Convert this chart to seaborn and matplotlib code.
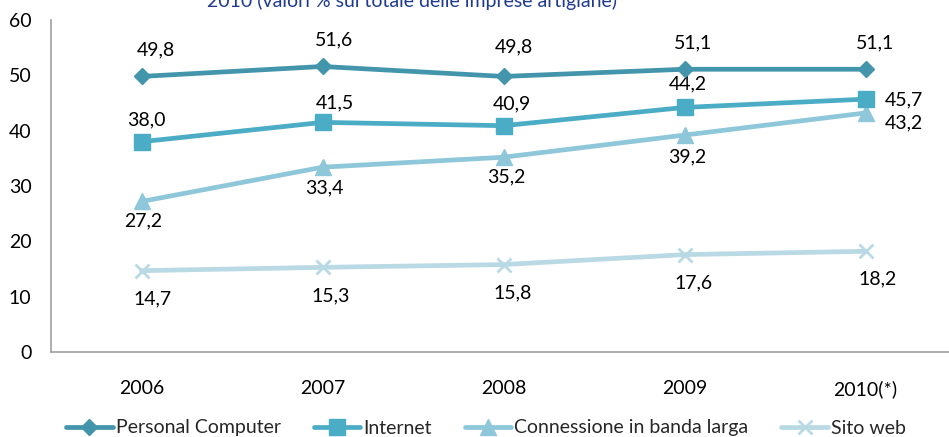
import matplotlib
matplotlib.use("Agg")
import matplotlib.pyplot as plt
import seaborn as sns
import pandas as pd
import numpy as np

# ---- data ----
years = ["2006", "2007", "2008", "2009", "2010(*)"]
series_names = ["Personal Computer", "Internet", "Connessione in banda larga", "Sito web"]
pc = [49.8, 51.6, 49.8, 51.1, 51.1]
internet = [38.0, 41.5, 40.9, 44.2, 45.7]
banda_larga = [27.2, 33.4, 35.2, 39.2, 43.2]
sito_web = [14.7, 15.3, 15.8, 17.6, 18.2]
title_text = "2010 (valori % sul totale delle imprese artigiane)"

values = [pc, internet, banda_larga, sito_web]

df = pd.DataFrame({
    "anno": np.tile(np.arange(len(years)), len(series_names)),
    "valore": np.concatenate(values),
    "serie": np.repeat(series_names, len(years)),
})

# ---- style ----
sns.set_style("white")
plt.rcParams["font.family"] = ["Lato", "DejaVu Sans"]

colors = ["#4295AA", "#4BACC6", "#8EC7DA", "#B9D9E4"]
markers = ["D", "s", "^", "x"]
msizes = [8.5, 11, 11, 10]

# label offsets in pixels (dx, dy up-positive)
offsets = [
    [(14, 27), (12, 27), (10, 30), (9, 26), (10, 26)],
    [(5, 22), (12, 19), (8, 22), (3, 24), (38, -1)],
    [(2, -19), (2, -21), (3, -20), (3, -22), (38, -10)],
    [(11, -28), (8, -29), (9, -28), (9, -28), (12, -28)],
]

W, H = 949, 437
fig = plt.figure(figsize=(W / 100, H / 100), dpi=100)
ax = fig.add_axes([51 / W, 1 - 352 / H, (956 - 51) / W, (352 - 20) / H])

for i, name in enumerate(series_names):
    sub = df[df["serie"] == name]
    sns.lineplot(data=sub, x="anno", y="valore", ax=ax, color=colors[i],
                 marker=markers[i], markersize=msizes[i], mec=colors[i],
                 mfc=colors[i], mew=2.0 if markers[i] == "x" else 1,
                 linewidth=3.4, label=name, zorder=3 + (3 - i))
    for j, v in enumerate(values[i]):
        dx, dy = offsets[i][j]
        ax.annotate(f"{v:.1f}".replace(".", ","), (j, v), xytext=(dx, dy),
                    textcoords="offset pixels", ha="center", va="center",
                    fontsize=14, color="#000000")

ax.set_xlim(-0.5, len(years) - 0.5)
ax.set_ylim(0, 60)
ax.set_yticks(range(0, 61, 10))
ax.set_xticks(range(len(years)))
ax.set_xticklabels(years)
ax.set_xticks(np.arange(-0.5, len(years), 1), minor=True)
ax.tick_params(axis="x", which="major", length=0, pad=20, labelsize=14, labelcolor="#000000")
ax.tick_params(axis="x", which="minor", length=6, width=1, color="#A0A0A0", direction="out")
ax.tick_params(axis="y", which="major", length=6, width=1, color="#A0A0A0",
               direction="out", pad=8, labelsize=14, labelcolor="#000000")
ax.set_xlabel("")
ax.set_ylabel("")
for s in ["top", "right"]:
    ax.spines[s].set_visible(False)
for s in ["left", "bottom"]:
    ax.spines[s].set_color("#A0A0A0")
    ax.spines[s].set_linewidth(1.2)

ax.get_legend().remove()
handles, labels = ax.get_legend_handles_labels()
fig.legend(handles, labels, loc="center", bbox_to_anchor=(486 / W, 1 - 428 / H),
           ncol=4, frameon=False, fontsize=14, handlelength=2.4,
           handletextpad=0.15, columnspacing=1.7, borderaxespad=0)

fig.text(207 / W, 1 - 7 / H, title_text, ha="left", va="baseline",
         fontsize=14, color="#1F3A8F")

fig.savefig("out.png", dpi=100)
